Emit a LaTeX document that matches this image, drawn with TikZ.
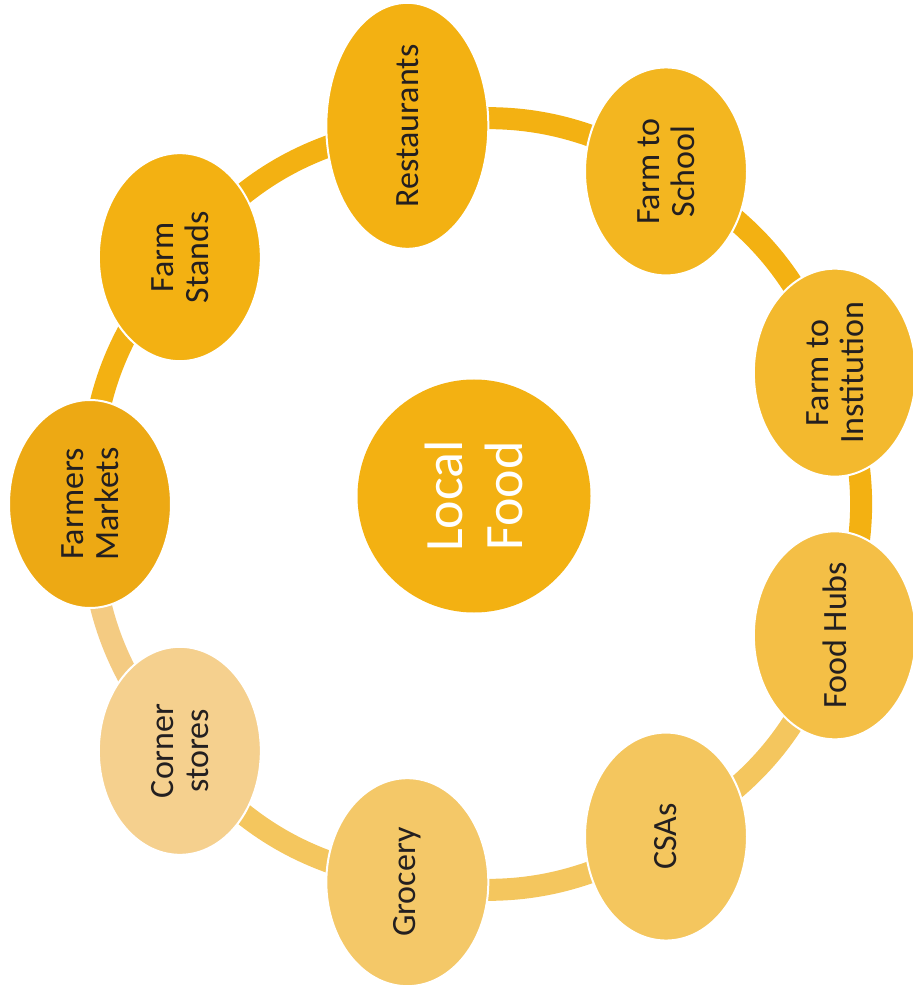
\documentclass[tikz,border=0pt]{standalone}
\usepackage{fontspec}
\setmainfont{Carlito}
\usepackage{xcolor}
\usepackage{tikz}
\usetikzlibrary{shapes.geometric, positioning, backgrounds}

\definecolor{deepgold}{HTML}{F3B112}
\definecolor{darkgold}{HTML}{EDA914}
\definecolor{midgold}{HTML}{F3B620}
\definecolor{warmgold}{HTML}{F3B92E}
\definecolor{softgold}{HTML}{F4BF46}
\definecolor{palegold}{HTML}{F4C65E}
\definecolor{sandgold}{HTML}{F4C868}
\definecolor{lightgold}{HTML}{F5D08E}
\definecolor{ringpale}{HTML}{F4CB82}
\definecolor{inktext}{HTML}{231F20}

\begin{document}
\begin{tikzpicture}[
    x=0.5pt, y=0.5pt,
    outlet/.style={ellipse, draw=white, line width=1pt, rotate=90, minimum width=104pt, minimum height=81pt, inner sep=0pt, align=center, text=inktext, font=\fontsize{17}{17.5}\selectfont},
    hub/.style={circle, minimum size=116.5pt, inner sep=0pt, align=center, text=white, font=\fontsize{27}{30}\selectfont},
    link/.style={line width=11pt}
]
    \useasboundingbox (-474,-491) rectangle (439,504);

    % Centre
    \node[hub, fill=deepgold, rotate=90] (local) at (0,8) {Local\\Food};

    % Outlets round the ring
    \node[outlet, fill=deepgold, minimum width=123pt] (rest) at (100:384) {Restaurants};
    \node[outlet, fill=midgold] (school) at (60:384) {Farm to\\School};
    \node[outlet, fill=warmgold] (inst) at (20:384) {Farm to\\Institution};
    \node[outlet, fill=softgold] (hubs) at (-20:384) {Food Hubs};
    \node[outlet, fill=palegold] (csas) at (-60:384) {CSAs};
    \node[outlet, fill=sandgold] (grocery) at (-100:384) {Grocery};
    \node[outlet, fill=lightgold] (corner) at (-140:384) {Corner\\stores};
    \node[outlet, fill=darkgold] (markets) at (180:384) {Farmers\\Markets};
    \node[outlet, fill=deepgold] (stands) at (140:384) {Farm\\Stands};

    % Ring
    \begin{scope}[on background layer]
        \draw[link, deepgold] (rest.center) to[bend left=20] (school.center);
        \draw[link, deepgold] (school.center) to[bend left=20] (inst.center);
        \draw[link, deepgold] (inst.center) to[bend left=20] (hubs.center);
        \draw[link, palegold] (hubs.center) to[bend left=20] (csas.center);
        \draw[link, palegold] (csas.center) to[bend left=20] (grocery.center);
        \draw[link, palegold] (grocery.center) to[bend left=20] (corner.center);
        \draw[link, ringpale] (corner.center) to[bend left=20] (markets.center);
        \draw[link, deepgold] (markets.center) to[bend left=20] (stands.center);
        \draw[link, deepgold] (stands.center) to[bend left=20] (rest.center);
    \end{scope}
\end{tikzpicture}
\end{document}
